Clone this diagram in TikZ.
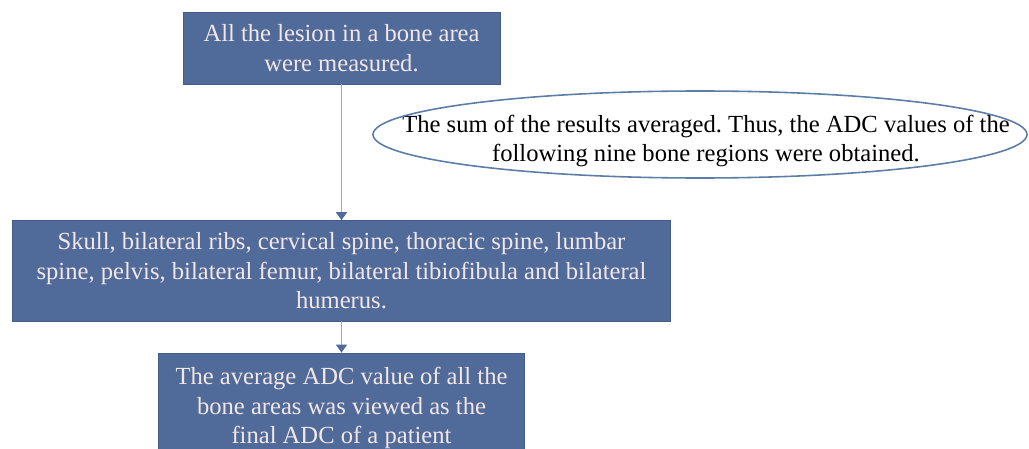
\documentclass[tikz,border=0pt]{standalone}
\usepackage{fontspec}
\setmainfont{Liberation Serif}
\usetikzlibrary{arrows.meta}
\usepackage{xcolor}
\definecolor{boxblue}{HTML}{506B9A}
\definecolor{boxedge}{HTML}{445C88}
\definecolor{boxtext}{HTML}{F3E6E6}
\definecolor{linkgray}{HTML}{9AABC6}
\definecolor{ovalline}{HTML}{5B7DA6}
\frenchspacing

\begin{document}
\begin{tikzpicture}[font=\fontsize{14}{16.8}\selectfont,line cap=round,
  stepbox/.style={fill=boxblue,draw=boxedge,line width=0.4pt,text=boxtext,align=center,inner sep=0pt},
  link/.style={draw=linkgray,line width=0.9pt,-{Triangle[length=1.6mm,width=2.2mm,color=boxblue]}}]
\useasboundingbox (0,0) rectangle (20.58,-8.98);
\clip (0,0) rectangle (20.58,-8.98);
% boxes down the left
\node[stepbox,minimum width=6.34cm,minimum height=1.44cm] (lesion) at (6.83,-0.96)
  {All the lesion in a bone area\\were measured.};
\node[stepbox,minimum width=13.16cm,minimum height=2.02cm] (regions) at (6.83,-5.42)
  {Skull, bilateral ribs, cervical spine, thoracic spine, lumbar\\
   spine, pelvis, bilateral femur, bilateral tibiofibula and bilateral\\humerus.};
\node[stepbox,minimum width=7.32cm,minimum height=2.2cm] (final) at (6.83,-8.16)
  {The average ADC value of all the\\bone areas was viewed as the\\final ADC of a patient};
% the oval note
\node[align=center,inner sep=0pt] (sum) at (14.12,-2.82)
  {The sum of the results averaged. Thus, the ADC values of the\\following nine bone regions were obtained.};
\draw[ovalline,line width=0.9pt] (14.0,-2.69) ellipse (6.54cm and 0.87cm);
% connectors
\draw[link] (lesion.south) -- (regions.north);
\draw[link] (regions.south) -- (final.north);
\end{tikzpicture}
\end{document}
